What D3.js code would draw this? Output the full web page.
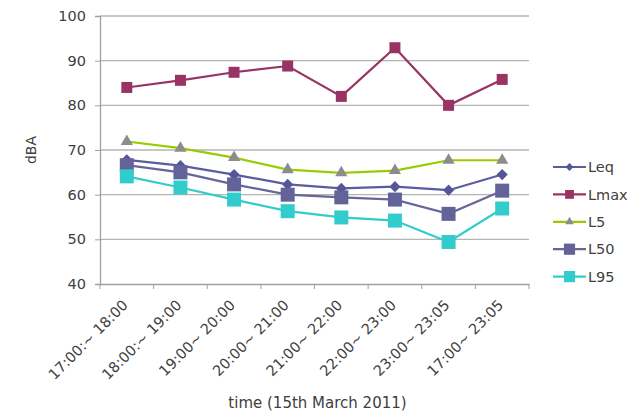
<!DOCTYPE html>
<html>
<head>
<meta charset="utf-8">
<script src="https://cdn.jsdelivr.net/npm/d3@7"></script>
<style>
  body { margin: 0; background: #fff; }
  text { font-family: "DejaVu Sans", Verdana, sans-serif; fill: #404040; }
</style>
</head>
<body>
<div id="viz"></div>
<script>
const categories = ['17:00:~ 18:00', '18:00:~ 19:00', '19:00~ 20:00', '20:00~ 21:00',
  '21:00~ 22:00', '22:00~ 23:00', '23:00~ 23:05', '17:00~ 23:05'];
const leq  = [67.8, 66.5, 64.5, 62.3, 61.4, 61.8, 61.0, 64.5];
const lmax = [84.0, 85.6, 87.4, 88.8, 82.0, 92.9, 80.0, 85.8];
const l5   = [71.9, 70.4, 68.3, 65.6, 64.9, 65.4, 67.7, 67.7];
const l50  = [66.6, 65.0, 62.3, 60.0, 59.4, 58.9, 55.7, 60.9];
const l95  = [64.1, 61.6, 58.9, 56.3, 54.9, 54.2, 49.4, 56.9];
const yTicks = [40, 50, 60, 70, 80, 90, 100];

const series = [
  {name: 'Leq',  values: leq,  line: '#5b5ba0', marker: '#55559a', shape: 'diamond', size: 10},
  {name: 'Lmax', values: lmax, line: '#993366', marker: '#993366', shape: 'square', size: 11},
  {name: 'L5',   values: l5,   line: '#99cc00', marker: '#8c8c8c', shape: 'triangle', size: 12},
  {name: 'L50',  values: l50,  line: '#666699', marker: '#63639a', shape: 'square', size: 14},
  {name: 'L95',  values: l95,  line: '#33cccc', marker: '#33cccc', shape: 'square', size: 14}
];

const width = 641, height = 414;
const margin = {top: 16, right: 112, bottom: 130, left: 100};

const svg = d3.select('#viz').append('svg')
  .attr('width', width)
  .attr('height', height);

const x = d3.scaleBand()
  .domain(categories)
  .range([margin.left, width - margin.right]);
const y = d3.scaleLinear()
  .domain([40, 100])
  .range([height - margin.bottom, margin.top]);

// gridlines
svg.append('g')
  .selectAll('line')
  .data(yTicks.slice(1))
  .join('line')
    .attr('x1', margin.left)
    .attr('x2', width - margin.right)
    .attr('y1', d => y(d))
    .attr('y2', d => y(d))
    .attr('stroke', '#b4b4b4')
    .attr('stroke-width', 1.3);

// y axis
const yAxis = svg.append('g')
  .attr('transform', `translate(${margin.left},0)`)
  .call(d3.axisLeft(y).tickValues(yTicks).tickSize(5).tickPadding(9));
yAxis.select('.domain').attr('stroke', '#a0a0a0').attr('stroke-width', 1.3);
yAxis.selectAll('.tick line').attr('stroke', '#a0a0a0');
yAxis.selectAll('text')
  .style('font-size', '14.5px')
  .style('font-family', '"DejaVu Sans", Verdana, sans-serif')
  .attr('fill', '#404040');

// x axis
const xAxis = svg.append('g')
  .attr('transform', `translate(0,${y(40)})`)
  .call(d3.axisBottom(x).tickSize(0).tickFormat(''));
xAxis.select('.domain').attr('stroke', '#a0a0a0').attr('stroke-width', 1.3);
svg.append('g')
  .selectAll('line')
  .data(categories)
  .join('line')
    .attr('x1', d => x(d))
    .attr('x2', d => x(d))
    .attr('y1', y(40))
    .attr('y2', y(40) + 5)
    .attr('stroke', '#a0a0a0');
svg.append('line')
  .attr('x1', width - margin.right).attr('x2', width - margin.right)
  .attr('y1', y(40)).attr('y2', y(40) + 5)
  .attr('stroke', '#a0a0a0');

svg.append('g')
  .selectAll('text')
  .data(categories)
  .join('text')
    .attr('transform', d => `translate(${x(d) + x.bandwidth() / 2 + 2},${y(40) + 22}) rotate(-45)`)
    .attr('text-anchor', 'end')
    .style('font-size', '14.5px')
    .text(d => d);

// axis titles
svg.append('text')
  .attr('transform', `translate(36,${(y(40) + y(100)) / 2}) rotate(-90)`)
  .attr('text-anchor', 'middle')
  .style('font-size', '14px')
  .text('dBA');
svg.append('text')
  .attr('x', (margin.left + width - margin.right) / 2 + 3)
  .attr('y', 408)
  .attr('text-anchor', 'middle')
  .style('font-size', '15px')
  .text('time (15th March 2011)');

const symbolFor = s => {
  if (s.shape === 'square') return d3.symbol(d3.symbolSquare, s.size * s.size);
  if (s.shape === 'triangle') return d3.symbol(d3.symbolTriangle, s.size * s.size * 0.45);
  return d3.symbol(d3.symbolDiamond2, s.size * s.size * 0.8);
};

const line = d3.line()
  .x((d, i) => x(categories[i]) + x.bandwidth() / 2)
  .y(d => y(d));

series.forEach(s => {
  const g = svg.append('g').attr('class', `series series-${s.name}`);
  g.append('path')
    .attr('d', line(s.values))
    .attr('fill', 'none')
    .attr('stroke', s.line)
    .attr('stroke-width', 2.2);
  g.selectAll('path.marker')
    .data(s.values)
    .join('path')
      .attr('class', 'marker')
      .attr('transform', (d, i) => `translate(${x(categories[i]) + x.bandwidth() / 2},${y(d)})`)
      .attr('d', symbolFor(s))
      .attr('fill', s.marker);
});

// legend
const legend = svg.append('g')
  .selectAll('g')
  .data(series)
  .join('g')
    .attr('transform', (d, i) => `translate(553,${167 + i * 27.4})`);
legend.append('line')
  .attr('x1', 0).attr('x2', 33)
  .attr('stroke', d => d.line)
  .attr('stroke-width', 2.2);
legend.append('path')
  .attr('transform', 'translate(16.5,0)')
  .attr('d', d => {
    const s = Object.assign({}, d, {size: d.shape === 'square' ? d.size * 0.8 : d.size * 0.7});
    return symbolFor(s)();
  })
  .attr('fill', d => d.marker);
legend.append('text')
  .attr('x', 35)
  .attr('dy', '0.36em')
  .style('font-size', '14.5px')
  .text(d => d.name);
</script>
</body>
</html>
